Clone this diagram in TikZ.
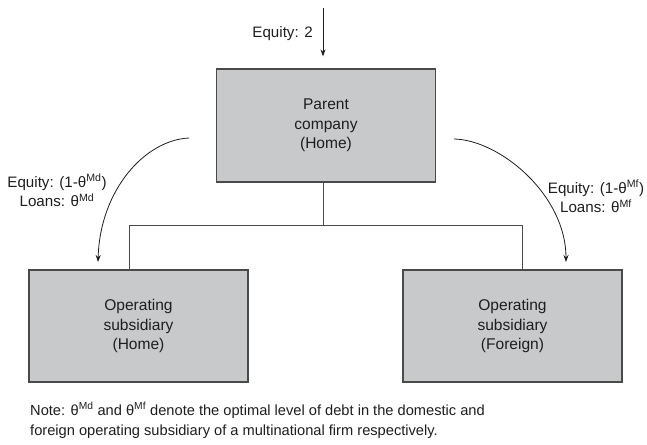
\documentclass[tikz,border=0pt]{standalone}
\usepackage{fontspec}
\setmainfont{Liberation Sans}
\usetikzlibrary{arrows.meta}
\definecolor{boxfill}{HTML}{C8C9CB}
\definecolor{boxline}{HTML}{4A4A4A}
\definecolor{txt}{HTML}{1E1E1E}
\begin{document}
\begin{tikzpicture}[x=1bp,y=-1bp,
  box/.style={draw=boxline, fill=boxfill, line width=1.2bp, minimum width=219bp,
    minimum height=113bp, inner sep=0pt, align=center,
    font=\fontsize{15.6}{19.5}\selectfont, text=txt},
  lbl/.style={align=center, inner sep=0pt, font=\fontsize{15.2}{20}\selectfont, text=txt},
  conn/.style={draw=boxline, line width=1bp},
  arr/.style={draw=txt, line width=0.8bp, -{Stealth[length=7bp,width=5bp]}}]
\useasboundingbox (0,0) rectangle (647,445);
% boxes
\node[box] (parent) at (326,125.5) {Parent\\company\\(Home)};
\node[box, minimum height=112bp] (home) at (138.5,326) {Operating\\subsidiary\\(Home)};
\node[box, minimum height=112bp] (foreign) at (512.5,326) {Operating\\subsidiary\\(Foreign)};
% incoming equity
\coordinate (src) at (323,8);
\draw[arr, shorten >=12bp] (src) -- (src |- parent.north);
\node[lbl, anchor=base east] (eq) at (313,38) {Equity: 2};
% tree connector
\coordinate (j) at (323,226);
\coordinate (jl) at (129,226);
\coordinate (jr) at (522,226);
\draw[conn] (j |- parent.south) -- (j);
\draw[conn] (jl |- home.north) -- (jl) -- (jr) -- (jr |- foreign.north);
% curved flows
\coordinate (ls) at (189,138);
\coordinate (lt) at (98,262);
\coordinate (rs) at (454,139);
\coordinate (rt) at (566,262);
\draw[arr] (ls) .. controls (145,140) and (100,190) .. (lt);
\draw[arr] (rs) .. controls (500,140) and (566,195) .. (rt);
% labels (base anchor = baseline of last line)
\node[lbl, anchor=base] (ll) at (57,207) {Equity: (1-θ\textsuperscript{Md})\\Loans: θ\textsuperscript{Md}};
\node[lbl, anchor=base] (rl) at (596,213) {Equity: (1-θ\textsuperscript{Mf})\\Loans: θ\textsuperscript{Mf}};
% note
\node[lbl, align=left, anchor=base west, font=\fontsize{14.7}{20}\selectfont] (note) at (30,435)
  {Note: θ\textsuperscript{Md} and θ\textsuperscript{Mf} denote the optimal level of debt in the domestic and\\
   foreign operating subsidiary of a multinational firm respectively.};
\end{tikzpicture}
\end{document}
